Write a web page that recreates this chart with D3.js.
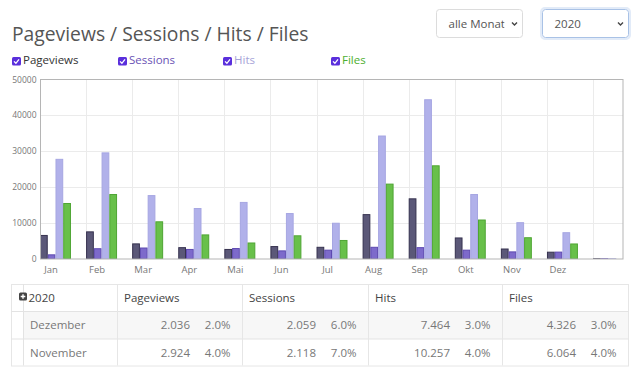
<!DOCTYPE html>
<html lang="de">
<head>
  <meta charset="utf-8">
  <title>Pageviews / Sessions / Hits / Files</title>
  <script src="https://d3js.org/d3.v7.min.js"></script>
  <style>
    body { margin: 0; background: #fff; font-family: "Open Sans", sans-serif; }
    svg { display: block; }
  </style>
</head>
<body>
  <svg id="page" width="640" height="375"></svg>

  <script>
    // Daten
    const months = ["Jan", "Feb", "Mar", "Apr", "Mai", "Jun", "Jul", "Aug", "Sep", "Okt", "Nov", "Dez", ""];
    const pageviews = [6700, 7700, 4350, 3300, 2800, 3600, 3400, 12500, 16900, 6000, 2924, 2036, 200];
    const sessions = [1300, 3000, 3200, 2800, 3050, 2400, 2600, 3400, 3300, 2600, 2118, 2059, 200];
    const hits = [27900, 29700, 17800, 14200, 15900, 12800, 10100, 34400, 44500, 18100, 10257, 7464, 200];
    const files = [15600, 18100, 10500, 6850, 4600, 6600, 5300, 21000, 26100, 11000, 6064, 4326, 100];
    const yTicks = [0, 10000, 20000, 30000, 40000, 50000];

    const seriesNames = ["Pageviews", "Sessions", "Hits", "Files"];

    const tableMonths = ["Dezember", "November"];
    const tablePageviews = [2036, 2924];
    const tablePageviewsPct = ["2.0%", "4.0%"];
    const tableSessions = [2059, 2118];
    const tableSessionsPct = ["6.0%", "7.0%"];
    const tableHits = [7464, 10257];
    const tableHitsPct = ["3.0%", "4.0%"];
    const tableFiles = [4326, 6064];
    const tableFilesPct = ["3.0%", "4.0%"];

    const series = [pageviews, sessions, hits, files];
    const fills = ["#5b5878", "#7d6acb", "#b1b1ea", "#68c04a"];
    const strokes = ["#36324f", "#5d49b0", "#a6a6e2", "#4fa534"];
    const legendText = ["#333", "#6a52b5", "#a6a3d8", "#4caf2e"];

    const svg = d3.select("#page");
    const defs = svg.append("defs");

    // Titel
    svg.append("text")
      .attr("x", 12).attr("y", 41)
      .attr("font-size", 19.3).attr("fill", "#555")
      .text("Pageviews / Sessions / Hits / Files");

    // Auswahlfelder
    const selects = [
      { x: 436.5, w: 86, text: "alle Monate", stroke: "#dcdcdc" },
      { x: 542.5, w: 86, text: "2020", stroke: "#a9c2e6" }
    ];
    selects.forEach((d, i) => {
      defs.append("clipPath").attr("id", "selclip" + i)
        .append("rect").attr("x", d.x + 4).attr("y", 10).attr("width", d.w - 22).attr("height", 26);
    });
    const sel = svg.selectAll("g.sel").data(selects).join("g").attr("class", "sel");
    sel.filter((d, i) => i === 1).append("rect")
      .attr("x", d => d.x - 1.5).attr("y", 8).attr("width", d => d.w + 3).attr("height", 31)
      .attr("rx", 4).attr("fill", "none").attr("stroke", "#e2ebf8").attr("stroke-width", 2);
    sel.append("rect")
      .attr("x", d => d.x).attr("y", 9.5).attr("width", d => d.w).attr("height", 28)
      .attr("rx", 3).attr("fill", "#fff").attr("stroke", d => d.stroke);
    sel.append("text")
      .attr("clip-path", (d, i) => `url(#selclip${i})`)
      .attr("x", d => d.x + 12).attr("y", 28)
      .attr("font-size", 11.5).attr("fill", "#555")
      .text(d => d.text);
    sel.append("path")
      .attr("d", d => `M${d.x + d.w - 10.5},22.5 l2.5,2.5 l2.5,-2.5`)
      .attr("fill", "none").attr("stroke", "#444").attr("stroke-width", 1.4);

    // Legende
    const legendX = [12, 118, 223, 331];
    const leg = svg.selectAll("g.leg").data(seriesNames).join("g")
      .attr("class", "leg")
      .attr("transform", (d, i) => `translate(${legendX[i]},57)`);
    leg.append("rect")
      .attr("width", 9).attr("height", 8.5).attr("rx", 1.5)
      .attr("fill", "#5a2fdc");
    leg.append("path")
      .attr("d", "M2,4.4 L3.9,6.3 L7,2.4")
      .attr("fill", "none").attr("stroke", "#fff").attr("stroke-width", 1.3);
    leg.append("text")
      .attr("x", 11).attr("y", 7)
      .attr("font-size", 11.5)
      .attr("fill", (d, i) => legendText[i])
      .text(d => d);

    // Diagramm
    const plotL = 40, plotR = 623, plotT = 79.5, plotB = 259;
    const x = d3.scaleLinear().domain([0, 12.65]).range([plotL, plotR]);
    const y = d3.scaleLinear().domain([0, 50000]).range([plotB, plotT]);
    const barW = 0.168;

    defs.append("clipPath").attr("id", "plotclip")
      .append("rect").attr("x", plotL).attr("y", plotT).attr("width", plotR - plotL).attr("height", plotB - plotT);

    const grid = svg.append("g");
    grid.selectAll("line.h").data(yTicks.slice(1, -1)).join("line")
      .attr("x1", plotL).attr("x2", plotR)
      .attr("y1", d => Math.round(y(d)) + 0.5).attr("y2", d => Math.round(y(d)) + 0.5)
      .attr("stroke", "#ebebeb");
    grid.selectAll("line.v").data(d3.range(1, 13)).join("line")
      .attr("x1", d => Math.round(x(d)) + 0.5).attr("x2", d => Math.round(x(d)) + 0.5)
      .attr("y1", plotT).attr("y2", plotB)
      .attr("stroke", "#ebebeb");

    const bars = svg.append("g").attr("clip-path", "url(#plotclip)");
    series.forEach((vals, s) => {
      bars.append("g").selectAll("rect").data(vals).join("rect")
        .attr("x", (d, i) => x(i + s * barW) + 0.5)
        .attr("width", x(barW) - x(0) - 1)
        .attr("y", d => y(d) + 0.5)
        .attr("height", d => Math.max(0, y(0) - y(d) - 0.5))
        .attr("fill", fills[s])
        .attr("stroke", strokes[s]);
    });

    svg.append("rect")
      .attr("x", plotL + 0.5).attr("y", plotT).attr("width", plotR - plotL - 0.5).attr("height", plotB - plotT)
      .attr("fill", "none").attr("stroke", "#b5b5b5");

    // Achsenbeschriftung
    svg.append("g").selectAll("text").data(yTicks).join("text")
      .attr("x", 36.5).attr("y", d => y(d) + 3)
      .attr("text-anchor", "end")
      .attr("font-size", 8.5).attr("fill", "#777")
      .text(d => d);
    svg.append("g").selectAll("text").data(months).join("text")
      .attr("x", (d, i) => x(i) + 11).attr("y", 273)
      .attr("text-anchor", "middle")
      .attr("font-size", 9.5).attr("fill", "#777")
      .text(d => d);

    // Tabelle
    const de = d3.formatLocale({ decimal: ",", thousands: ".", grouping: [3], currency: ["", "€"] });
    const fmt = de.format(",d");
    const tLeft = 11.5, tRight = 628.5, rowY = [284, 311.5, 339, 365.5];
    const colX = [tLeft, 117.5, 242.5, 368.5, 502.5, tRight];
    const table = svg.append("g");

    table.append("rect")
      .attr("x", 23.5).attr("y", rowY[1]).attr("width", tRight - 23.5).attr("height", rowY[2] - rowY[1])
      .attr("fill", "#f7f7f7");
    table.append("rect")
      .attr("x", tLeft).attr("y", rowY[0] + 0.5).attr("width", tRight - tLeft).attr("height", rowY[3] - rowY[0])
      .attr("fill", "none").attr("stroke", "#e6e6e6");
    table.selectAll("line.r").data(rowY.slice(1, 3)).join("line")
      .attr("x1", tLeft).attr("x2", tRight).attr("y1", d => d).attr("y2", d => d)
      .attr("stroke", "#e3e3e3");
    table.selectAll("line.c").data(colX.slice(1, 5)).join("line")
      .attr("x1", d => d).attr("x2", d => d).attr("y1", rowY[0]).attr("y2", rowY[3])
      .attr("stroke", "#e6e6e6");
    table.append("line")
      .attr("x1", 23.5).attr("x2", 23.5).attr("y1", rowY[0]).attr("y2", rowY[3])
      .attr("stroke", "#e3e3e3");

    // Plus-Symbol
    table.append("rect")
      .attr("x", 19).attr("y", 292.5).attr("width", 8).attr("height", 8).attr("rx", 1.5)
      .attr("fill", "#444");
    table.append("path")
      .attr("d", "M23,294.2 V298.8 M20.7,296.5 H25.3")
      .attr("stroke", "#fff").attr("stroke-width", 1.4);

    const headers = ["2020", "Pageviews", "Sessions", "Hits", "Files"];
    table.selectAll("text.h").data(headers).join("text")
      .attr("x", (d, i) => i === 0 ? 28.5 : colX[i] + 6.5)
      .attr("y", 301.5)
      .attr("font-size", 11.5).attr("fill", "#444")
      .text(d => d);

    const numCols = [
      [tablePageviews, tablePageviewsPct],
      [tableSessions, tableSessionsPct],
      [tableHits, tableHitsPct],
      [tableFiles, tableFilesPct]
    ];
    tableMonths.forEach((m, r) => {
      const by = rowY[r + 1] + 17.5;
      table.append("text")
        .attr("x", 30).attr("y", by)
        .attr("font-size", 11.5).attr("fill", "#777")
        .text(m);
      numCols.forEach(([vals, pcts], c) => {
        const cr = colX[c + 2];
        table.append("text")
          .attr("x", cr - 52.5).attr("y", by)
          .attr("text-anchor", "end")
          .attr("font-size", 11.5).attr("fill", "#777")
          .text(fmt(vals[r]));
        table.append("text")
          .attr("x", cr - 12).attr("y", by)
          .attr("text-anchor", "end")
          .attr("font-size", 11.5).attr("fill", "#777")
          .text(pcts[r]);
      });
    });
  </script>
</body>
</html>
